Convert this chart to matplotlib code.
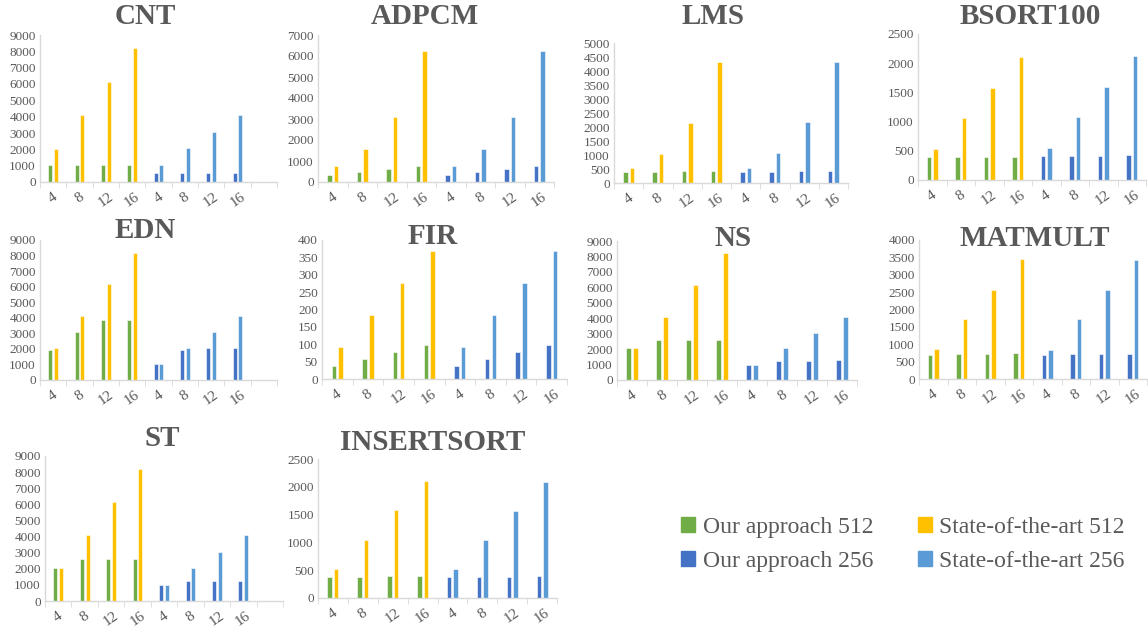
import matplotlib
matplotlib.use("Agg")
import matplotlib.pyplot as plt
from matplotlib.patches import Patch

plt.rcParams['font.family'] = ['Liberation Serif', 'DejaVu Serif']

# Kategorie na osi X (dwie grupy: 512 i 256)
labels = ["4", "8", "12", "16", "4", "8", "12", "16"]

# Dane
cnt_our512 = [1024, 1024, 1024, 1024]
cnt_sota512 = [2048, 4096, 6144, 8192]
cnt_our256 = [540, 540, 540, 540]
cnt_sota256 = [1060, 2080, 3090, 4130]

adpcm_our512 = [334, 477, 620, 763]
adpcm_sota512 = [779, 1558, 3116, 6248]
adpcm_our256 = [334, 477, 620, 763]
adpcm_sota256 = [779, 1558, 3116, 6232]

lms_our512 = [385, 400, 420, 430]
lms_sota512 = [520, 1053, 2141, 4318]
lms_our256 = [385, 405, 420, 440]
lms_sota256 = [538, 1065, 2165, 4330]

bsort_our512 = [395, 395, 398, 400]
bsort_sota512 = [532, 1058, 1579, 2105]
bsort_our256 = [410, 410, 415, 420]
bsort_sota256 = [545, 1075, 1600, 2125]

edn_our512 = [1900, 3060, 3840, 3840]
edn_sota512 = [2048, 4096, 6144, 8192]
edn_our256 = [1000, 1900, 2040, 2040]
edn_sota256 = [1024, 2048, 3072, 4096]

fir_our512 = [36, 57, 77, 97]
fir_sota512 = [91, 183, 275, 368]
fir_our256 = [36, 57, 77, 97]
fir_sota256 = [91, 183, 275, 367]

ns_our512 = [2048, 2560, 2560, 2560]
ns_sota512 = [2048, 4096, 6144, 8192]
ns_our256 = [1000, 1260, 1260, 1280]
ns_sota256 = [1000, 2040, 3040, 4060]

matmult_our512 = [700, 718, 727, 737]
matmult_sota512 = [852, 1722, 2574, 3445]
matmult_our256 = [690, 708, 718, 727]
matmult_sota256 = [842, 1713, 2574, 3435]

st_our512 = [2048, 2580, 2580, 2580]
st_sota512 = [2048, 4096, 6144, 8192]
st_our256 = [1006, 1270, 1270, 1270]
st_sota256 = [1006, 2040, 3060, 4086]

insert_our512 = [382, 382, 388, 394]
insert_sota512 = [519, 1044, 1575, 2106]
insert_our256 = [376, 382, 382, 388]
insert_sota256 = [513, 1038, 1569, 2094]

C_OUR512 = "#70AD47"
C_SOTA512 = "#FFC000"
C_OUR256 = "#4472C4"
C_SOTA256 = "#5B9BD5"
TXT = "#595959"
AXIS = "#D9D9D9"

W, H = 1148, 632

# (tytuł, dane, ymax, krok, liczba kategorii, [x0, x1, y_dol, y_gora] w px, środek tytułu)
charts = [
    ("CNT", (cnt_our512, cnt_sota512, cnt_our256, cnt_sota256), 9000, 1000, 9, (40, 277, 182, 35), (145, 16)),
    ("ADPCM", (adpcm_our512, adpcm_sota512, adpcm_our256, adpcm_sota256), 7000, 1000, 8, (318, 554, 182, 35), (425, 17)),
    ("LMS", (lms_our512, lms_sota512, lms_our256, lms_sota256), 5000, 500, 8, (614, 848, 183, 43), (713, 16)),
    ("BSORT100", (bsort_our512, bsort_sota512, bsort_our256, bsort_sota256), 2500, 500, 8, (918, 1146, 180, 34), (1030, 17)),
    ("EDN", (edn_our512, edn_sota512, edn_our256, edn_sota256), 9000, 1000, 9, (40, 277, 380, 240), (145, 231)),
    ("FIR", (fir_our512, fir_sota512, fir_our256, fir_sota256), 400, 50, 8, (322, 567, 379, 240), (433, 236)),
    ("NS", (ns_our512, ns_sota512, ns_our256, ns_sota256), 9000, 1000, 8, (617, 857, 380, 241), (733, 239)),
    ("MATMULT", (matmult_our512, matmult_sota512, matmult_our256, matmult_sota256), 4000, 500, 8, (919, 1147, 379, 240), (1035, 239)),
    ("ST", (st_our512, st_sota512, st_our256, st_sota256), 9000, 1000, 9, (45, 283, 601, 456), (162, 438)),
    ("INSERTSORT", (insert_our512, insert_sota512, insert_our256, insert_sota256), 2500, 500, 8, (318, 557, 598, 459), (433, 442)),
]

fig = plt.figure(figsize=(W / 100, H / 100), dpi=100)

bw = 0.15
for title, (our512, sota512, our256, sota256), ymax, step, ncat, (x0, x1, yb, yt), (tx, ty) in charts:
    ax = fig.add_axes([x0 / W, 1 - yb / H, (x1 - x0) / W, (yb - yt) / H])
    first = range(4)
    second = range(4, 8)
    ax.bar([i + 0.5 - 0.11 for i in first], our512, bw, color=C_OUR512, edgecolor="white", linewidth=0.4)
    ax.bar([i + 0.5 + 0.11 for i in first], sota512, bw, color=C_SOTA512, edgecolor="white", linewidth=0.4)
    ax.bar([i + 0.5 - 0.11 for i in second], our256, bw, color=C_OUR256, edgecolor="white", linewidth=0.4)
    ax.bar([i + 0.5 + 0.11 for i in second], sota256, bw, color=C_SOTA256, edgecolor="white", linewidth=0.4)

    ax.set_xlim(0, ncat)
    ax.set_ylim(0, ymax)
    ax.set_yticks(range(0, ymax + 1, step))
    ax.set_xticks([i + 0.5 for i in range(8)])
    ax.set_xticklabels(labels, rotation=35, fontsize=11, color=TXT)
    ax.set_xticks(range(ncat + 1), minor=True)
    ax.tick_params(axis="x", which="major", length=0, pad=6)
    ax.tick_params(axis="x", which="minor", length=4, color=AXIS, direction="out")
    ax.tick_params(axis="y", length=0, labelsize=9.5, labelcolor=TXT, pad=3)
    for s in ["top", "right"]:
        ax.spines[s].set_visible(False)
    for s in ["left", "bottom"]:
        ax.spines[s].set_color(AXIS)
        ax.spines[s].set_linewidth(1)
    ax.patch.set_alpha(0)

    fig.text(tx / W, 1 - ty / H, title, ha="center", va="center", fontsize=21,
             fontweight="bold", color=TXT)

handles = [
    Patch(color=C_OUR512, label="Our approach 512"),
    Patch(color=C_OUR256, label="Our approach 256"),
    Patch(color=C_SOTA512, label="State-of-the-art 512"),
    Patch(color=C_SOTA256, label="State-of-the-art 256"),
]
fig.legend(handles=handles, ncol=2, loc="upper left", bbox_to_anchor=(660 / W, 1 - 496 / H),
           frameon=False, fontsize=17, handlelength=0.6, handleheight=0.6, handletextpad=0.3,
           columnspacing=1.9, labelspacing=0.55, labelcolor=TXT)

fig.savefig("out.png", dpi=100)
